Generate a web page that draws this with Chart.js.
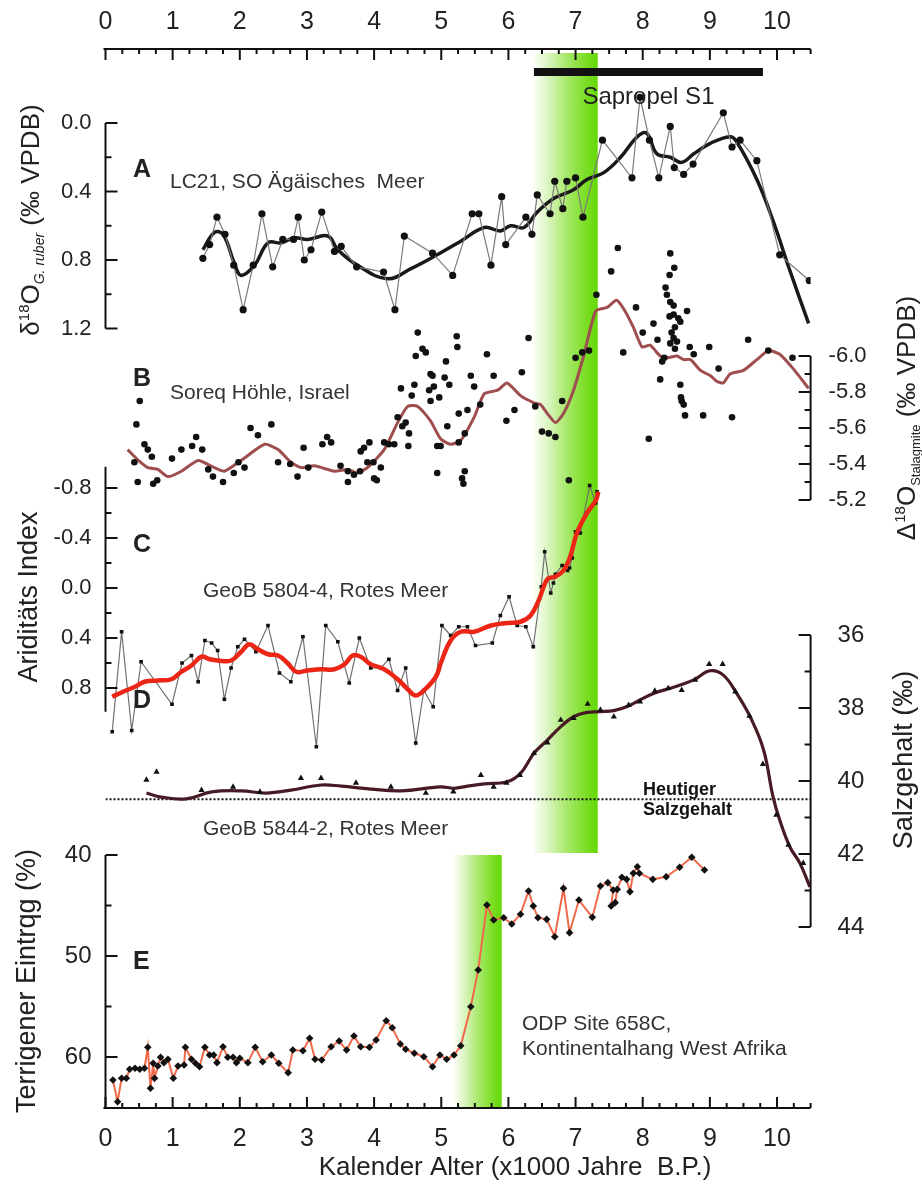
<!DOCTYPE html>
<html>
<head>
<meta charset="utf-8">
<script src="https://cdn.jsdelivr.net/npm/chart.js@4.4.0/dist/chart.umd.min.js"></script>
<style>
  body { margin: 0; background: #fff; }
  canvas { display: block; }
</style>
</head>
<body>
<canvas id="grafico" width="922" height="1189"></canvas>
<script>
// Alter in 1000 Jahren B.P.
const X_MIN = 0, X_MAX = 10.5;
const xEtiquetas = ['0', '1', '2', '3', '4', '5', '6', '7', '8', '9', '10'];
const sapropel = [6.38, 9.79];
const bandaOben = [6.38, 7.33];
const bandaUnten = [5.19, 5.90];
const heutigerSalz = 40.5;

// A: LC21 delta18O G. ruber
const aRoh = [[1.45,0.79],[1.55,0.71],[1.66,0.55],[1.78,0.65],[1.91,0.83],[2.05,1.09],[2.20,0.83],[2.33,0.53],[2.49,0.84],[2.64,0.68],
  [2.80,0.68],[2.87,0.55],[2.96,0.80],[3.06,0.74],[3.22,0.52],[3.41,0.75],[3.51,0.72],[3.74,0.84],[4.14,0.87],[4.31,1.09],
  [4.45,0.66],[4.87,0.76],[5.17,0.89],[5.46,0.53],[5.56,0.53],[5.74,0.83],[5.90,0.43],[5.96,0.71],[6.26,0.55],[6.35,0.65],
  [6.43,0.42],[6.62,0.53],[6.69,0.34],[6.81,0.50],[6.87,0.34],[7.00,0.32],[7.11,0.55],[7.40,0.10],[7.84,0.32],[7.96,-0.15],
  [8.10,0.10],[8.24,0.32],[8.41,0.02],[8.47,0.26],[8.61,0.30],[8.75,0.24],[9.20,-0.06],[9.33,0.14],[9.45,0.10],[9.70,0.22],
  [10.04,0.77],[10.48,0.92]];
const aGlatt = [[1.45,0.74],[1.62,0.64],[1.75,0.65],[1.92,0.82],[2.02,0.89],[2.22,0.83],[2.42,0.70],[2.62,0.70],[2.81,0.67],[3.01,0.68],
  [3.31,0.66],[3.46,0.74],[3.75,0.83],[4.20,0.91],[4.55,0.85],[4.89,0.78],[5.29,0.69],[5.64,0.61],[5.88,0.63],[6.03,0.60],
  [6.23,0.61],[6.43,0.52],[6.68,0.44],[6.97,0.39],[7.17,0.33],[7.42,0.29],[7.67,0.20],[7.92,0.08],[8.06,0.06],[8.21,0.18],
  [8.41,0.20],[8.58,0.23],[8.76,0.18],[9.00,0.12],[9.30,0.08],[9.40,0.11],[9.70,0.33],[9.94,0.57],[10.19,0.86],[10.47,1.17]];
const aTicks = [0.0, 0.4, 0.8, 1.2];
const aTicksKlein = [0.2, 0.6, 1.0];
const aEtiquetas = ['0.0', '0.4', '0.8', '1.2'];

// B: Soreq Höhle delta18O
const bPunkte = [[0.51,-5.75],[0.46,-5.62],[0.43,-5.41],[0.48,-5.30],[0.58,-5.51],[0.63,-5.48],[0.69,-5.44],[0.71,-5.29],[0.77,-5.31],[0.99,-5.43],
  [1.13,-5.48],[1.29,-5.50],[1.35,-5.55],[1.44,-5.48],[1.53,-5.37],[1.60,-5.33],[1.75,-5.30],[1.91,-5.35],[1.98,-5.41],[2.07,-5.38],
  [2.16,-5.60],[2.27,-5.56],[2.47,-5.62],[2.57,-5.41],[2.75,-5.40],[2.86,-5.33],[2.95,-5.49],[3.02,-5.38],[3.23,-5.51],[3.30,-5.55],
  [3.36,-5.52],[3.50,-5.39],[3.61,-5.36],[3.61,-5.30],[3.70,-5.34],[3.79,-5.36],[3.80,-5.47],[3.85,-5.49],[3.93,-5.52],[3.90,-5.41],
  [3.99,-5.41],[4.00,-5.32],[4.04,-5.31],[4.10,-5.38],[4.15,-5.52],[4.22,-5.51],[4.30,-5.51],[4.35,-5.66],[4.40,-5.82],[4.42,-5.61],
  [4.47,-5.63],[4.52,-5.57],[4.51,-5.50],[4.56,-5.78],[4.60,-5.84],[4.62,-6.00],[4.65,-6.13],[4.72,-6.04],[4.77,-6.02],[4.82,-5.81],
  [4.84,-5.90],[4.87,-5.89],[4.84,-5.75],[4.89,-5.83],[4.94,-5.50],[4.97,-5.77],[4.99,-5.50],[4.94,-5.35],[5.07,-5.97],[5.05,-5.88],
  [5.09,-5.61],[5.12,-5.84],[5.23,-6.11],[5.24,-6.05],[5.26,-5.68],[5.35,-5.57],[5.26,-5.52],[5.35,-5.36],[5.31,-5.32],[5.33,-5.29],
  [5.39,-5.70],[5.44,-5.89],[5.49,-5.83],[5.58,-5.73],[5.68,-6.01],[5.78,-5.89],[5.97,-5.64],[6.09,-5.70],[6.20,-5.91],[6.30,-6.10],
  [6.40,-5.72],[6.50,-5.58],[6.60,-5.57],[6.70,-5.55],[6.80,-5.75],[6.90,-5.31],[7.00,-5.99],[7.10,-6.02],[7.20,-6.03],[7.31,-6.34],
  [7.53,-6.47],[7.63,-6.60],[7.71,-6.02],[7.90,-6.27],[8.00,-6.13],[8.09,-5.54],[8.16,-6.18],[8.22,-6.09],[8.26,-5.87],[8.41,-6.57],
  [8.47,-6.49],[8.40,-6.45],[8.34,-6.38],[8.36,-6.34],[8.41,-6.30],[8.46,-6.28],[8.46,-6.23],[8.40,-6.22],[8.53,-6.21],[8.56,-6.19],
  [8.48,-6.16],[8.43,-6.13],[8.46,-6.10],[8.51,-6.08],[8.41,-6.07],[8.48,-6.04],[8.32,-5.99],[8.29,-5.97],[8.66,-6.25],[8.70,-6.05],
  [8.76,-6.01],[8.99,-6.05],[9.13,-5.93],[9.57,-6.09],[8.56,-5.84],[8.57,-5.77],[8.58,-5.75],[8.61,-5.73],[8.63,-5.67],[8.90,-5.67],
  [9.33,-5.66],[9.87,-6.03],[10.23,-5.99],[10.58,-5.75]];
const bGlatt = [[0.33,-5.48],[0.49,-5.42],[0.63,-5.38],[0.78,-5.37],[0.93,-5.33],[1.13,-5.36],[1.38,-5.42],[1.62,-5.38],[1.77,-5.36],[2.02,-5.42],
  [2.37,-5.51],[2.57,-5.48],[2.76,-5.41],[2.91,-5.38],[3.11,-5.39],[3.41,-5.36],[3.61,-5.37],[3.75,-5.35],[3.90,-5.38],[4.15,-5.48],
  [4.35,-5.63],[4.50,-5.72],[4.65,-5.72],[4.84,-5.64],[4.99,-5.54],[5.14,-5.51],[5.29,-5.53],[5.49,-5.66],[5.64,-5.79],[5.84,-5.81],
  [5.98,-5.85],[6.18,-5.78],[6.38,-5.74],[6.48,-5.73],[6.58,-5.68],[6.70,-5.63],[6.82,-5.68],[6.97,-5.81],[7.12,-6.00],[7.30,-6.25],
  [7.47,-6.27],[7.61,-6.31],[7.72,-6.26],[7.86,-6.16],[7.99,-6.05],[8.11,-6.06],[8.26,-6.00],[8.36,-5.99],[8.51,-6.00],[8.61,-5.98],
  [8.71,-5.98],[8.86,-5.92],[9.01,-5.89],[9.10,-5.86],[9.20,-5.85],[9.30,-5.90],[9.50,-5.92],[9.70,-5.98],[9.87,-6.03],[10.04,-6.01],
  [10.24,-5.93],[10.47,-5.82]];
const bTicks = [-6.0, -5.8, -5.6, -5.4, -5.2];
const bTicksKlein = [-5.9, -5.7, -5.5, -5.3];
const bEtiquetas = ['-6.0', '-5.8', '-5.6', '-5.4', '-5.2'];

// C: GeoB 5804-4 Ariditätsindex
const cRoh = [[0.10,1.15],[0.24,0.35],[0.39,1.14],[0.53,0.59],[0.99,0.93],[1.14,0.60],[1.28,0.54],[1.38,0.75],[1.48,0.42],[1.58,0.44],
  [1.67,0.50],[1.77,0.89],[1.87,0.64],[1.97,0.47],[2.07,0.41],[2.24,0.51],[2.42,0.30],[2.59,0.68],[2.76,0.75],[2.94,0.39],
  [3.14,1.27],[3.28,0.30],[3.46,0.43],[3.63,0.76],[3.78,0.40],[3.95,0.64],[4.10,0.64],[4.22,0.57],[4.35,0.82],[4.47,0.64],
  [4.62,1.24],[4.74,0.82],[4.88,0.95],[5.01,0.30],[5.14,0.38],[5.26,0.31],[5.39,0.31],[5.51,0.46],[5.76,0.44],[5.88,0.22],
  [6.01,0.07],[6.13,0.30],[6.26,0.31],[6.37,0.47],[6.49,-0.01],[6.54,-0.29],[6.63,0.04],[6.67,-0.04],[6.70,-0.11],[6.80,-0.18],
  [6.88,-0.14],[6.91,-0.16],[6.95,-0.24],[7.00,-0.45],[7.07,-0.44],[7.21,-0.82],[7.30,-0.68],[7.32,-0.77]];
const cGlatt = [[0.10,0.87],[0.26,0.83],[0.44,0.79],[0.58,0.75],[0.78,0.74],[0.98,0.73],[1.13,0.67],[1.28,0.62],[1.43,0.55],[1.55,0.57],
  [1.67,0.58],[1.87,0.58],[2.02,0.51],[2.14,0.45],[2.27,0.49],[2.42,0.53],[2.57,0.54],[2.71,0.60],[2.84,0.67],[3.01,0.66],
  [3.21,0.65],[3.41,0.65],[3.56,0.61],[3.68,0.54],[3.80,0.55],[3.95,0.61],[4.15,0.65],[4.35,0.73],[4.52,0.82],[4.62,0.86],
  [4.74,0.82],[4.92,0.71],[5.00,0.59],[5.14,0.42],[5.29,0.35],[5.49,0.35],[5.74,0.30],[5.98,0.28],[6.18,0.27],[6.33,0.22],
  [6.45,0.10],[6.58,-0.07],[6.70,-0.09],[6.82,-0.14],[6.92,-0.25],[7.02,-0.44],[7.17,-0.60],[7.30,-0.70],[7.34,-0.77]];
const cTicks = [-0.8, -0.4, 0.0, 0.4, 0.8];
const cTicksKlein = [-0.6, -0.2, 0.2, 0.6];
const cEtiquetas = ['-0.8', '-0.4', '0.0', '0.4', '0.8'];

// D: GeoB 5844-2 Salzgehalt
const dPunkte = [[0.61,39.97],[0.76,39.75],[1.43,40.25],[1.90,40.16],[2.30,40.30],[2.91,39.92],[3.21,39.92],[3.73,40.05],[4.25,40.16],[4.77,40.33],
  [5.18,40.29],[5.59,39.84],[5.78,40.16],[5.97,40.05],[6.17,39.84],[6.38,39.24],[6.58,38.95],[6.78,38.33],[6.97,38.28],[7.18,37.89],
  [7.37,38.05],[7.57,38.24],[7.79,37.92],[7.96,37.83],[8.18,37.53],[8.38,37.46],[8.58,37.51],[8.78,37.23],[8.99,36.80],[9.19,36.80],
  [9.38,37.55],[9.59,38.22],[9.79,39.54],[9.99,40.93],[10.17,41.75],[10.39,42.25]];
const dGlatt = [[0.61,40.33],[0.83,40.44],[1.20,40.49],[1.58,40.30],[2.02,40.27],[2.39,40.33],[2.76,40.25],[3.21,40.11],[3.51,40.14],[3.95,40.22],
  [4.40,40.27],[4.99,40.16],[5.19,40.20],[5.39,40.14],[5.64,40.08],[5.98,40.02],[6.18,39.79],[6.38,39.24],[6.58,38.88],[6.78,38.51],
  [6.97,38.24],[7.17,38.12],[7.37,38.10],[7.57,38.07],[7.77,37.96],[7.96,37.78],[8.16,37.60],[8.46,37.43],[8.76,37.23],[9.00,36.98],
  [9.20,37.10],[9.40,37.60],[9.60,38.24],[9.80,39.15],[9.94,40.43],[10.04,41.07],[10.19,41.80],[10.34,42.25],[10.49,42.90]];
const dTicks = [36, 38, 40, 42, 44];
const dTicksKlein = [37, 39, 41, 43];
const dEtiquetas = ['36', '38', '40', '42', '44'];

// E: ODP 658C terrigener Eintrag
const ePunkte = [[0.11,62.28],[0.18,64.43],[0.24,62.11],[0.31,62.11],[0.36,61.22],[0.44,61.12],[0.51,61.22],[0.58,61.12],[0.63,59.04],[0.67,63.10],
  [0.71,60.62],[0.73,62.11],[0.78,60.89],[0.82,60.03],[0.87,60.56],[0.93,60.23],[1.01,62.11],[1.08,60.89],[1.17,60.79],[1.19,59.04],
  [1.28,60.23],[1.34,60.62],[1.40,60.96],[1.48,59.04],[1.55,59.80],[1.61,59.80],[1.66,60.56],[1.75,58.98],[1.82,60.03],[1.90,60.03],
  [1.95,60.56],[2.00,60.13],[2.12,60.56],[2.23,59.04],[2.34,60.47],[2.47,59.80],[2.58,60.62],[2.72,61.55],[2.79,59.31],[2.94,59.38],
  [3.04,58.15],[3.12,60.23],[3.22,60.30],[3.36,58.98],[3.48,58.42],[3.59,59.31],[3.70,57.92],[3.80,58.98],[3.93,59.04],[4.03,58.32],
  [4.18,56.41],[4.27,57.10],[4.39,58.71],[4.47,59.24],[4.60,59.63],[4.74,59.97],[4.87,60.96],[4.98,59.80],[5.08,60.23],[5.19,59.80],
  [5.29,58.89],[5.44,55.02],[5.55,51.39],[5.68,44.95],[5.78,46.44],[5.93,46.21],[6.05,46.83],[6.18,45.87],[6.30,43.56],[6.37,45.05],
  [6.44,46.21],[6.57,46.37],[6.69,48.09],[6.82,43.30],[6.91,47.69],[7.05,44.46],[7.25,46.17],[7.37,43.07],[7.48,42.74],[7.56,43.47],
  [7.53,45.05],[7.59,44.72],[7.62,43.40],[7.69,42.21],[7.76,42.41],[7.81,43.63],[7.86,41.81],[7.92,41.16],[7.95,41.81],[8.15,42.41],
  [8.35,42.15],[8.55,41.22],[8.73,40.23],[8.92,41.49]];
const eTicks = [40, 50, 60];
const eTicksKlein = [45, 55];
const eEtiquetas = ['40', '50', '60'];

// Lage der Zeichenfläche im Bild
const ZONA = { left: 105.5, right: 810.6, top: 49, bottom: 1108 };
const FAM = "'Liberation Sans', Arial, sans-serif";

function rango(v0, p0, v1, p1) {
  const k = (v1 - v0) / (p1 - p0);
  return { min: v0 + (ZONA.top - p0) * k, max: v0 + (ZONA.bottom - p0) * k };
}
function puntos(pares) {
  return pares.map(p => ({ x: p[0], y: p[1] }));
}
function ejeY(r) {
  return { type: 'linear', display: false, reverse: true, min: r.min, max: r.max };
}

function linea(ctx, x1, y1, x2, y2) {
  ctx.beginPath(); ctx.moveTo(x1, y1); ctx.lineTo(x2, y2); ctx.stroke();
}

function textoRico(ctx, partes, cx, cy, girar) {
  ctx.save();
  ctx.translate(cx, cy);
  if (girar) ctx.rotate(-Math.PI / 2);
  ctx.textAlign = 'left';
  ctx.textBaseline = 'alphabetic';
  let total = 0;
  partes.forEach(p => { ctx.font = p.f; total += ctx.measureText(p.t).width; });
  let x = -total / 2;
  partes.forEach(p => {
    ctx.font = p.f;
    ctx.fillText(p.t, x, 9 + (p.dy || 0));
    x += ctx.measureText(p.t).width;
  });
  ctx.restore();
}

function banda(ctx, sx, rangoX, yTop, yBot) {
  const x1 = sx.getPixelForValue(rangoX[0]), x2 = sx.getPixelForValue(rangoX[1]);
  const g = ctx.createLinearGradient(x1, 0, x2, 0);
  g.addColorStop(0, 'rgb(250,254,246)');
  g.addColorStop(0.2, 'rgb(222,246,198)');
  g.addColorStop(0.5, 'rgb(170,233,110)');
  g.addColorStop(0.8, 'rgb(125,222,40)');
  g.addColorStop(1, 'rgb(100,216,5)');
  ctx.fillStyle = g;
  ctx.fillRect(x1, yTop, x2 - x1, yBot - yTop);
}

function dibujarEjeY(ctx, chart, c) {
  const sx = chart.scales.x, sy = chart.scales[c.id];
  const izq = c.lado === 'left';
  const x = sx.getPixelForValue(izq ? X_MIN : X_MAX);
  const dir = izq ? 1 : -1;
  ctx.strokeStyle = '#111';
  ctx.lineWidth = 2;
  linea(ctx, x, sy.getPixelForValue(c.desde), x, sy.getPixelForValue(c.hasta));
  c.mayores.forEach(v => { const y = sy.getPixelForValue(v); linea(ctx, x, y, x + dir * 12, y); });
  c.menores.forEach(v => { const y = sy.getPixelForValue(v); linea(ctx, x, y, x + dir * 6, y); });
  ctx.fillStyle = '#222';
  ctx.font = c.fuente;
  ctx.textBaseline = 'middle';
  ctx.textAlign = izq ? 'right' : 'left';
  c.etiquetas.forEach((t, i) => ctx.fillText(t, x + (izq ? -14 : c.sep), sy.getPixelForValue(c.mayores[i])));
}

function dibujarEjeX(ctx, sx, y, dir, yTexto) {
  ctx.strokeStyle = '#111';
  ctx.lineWidth = 2;
  linea(ctx, sx.getPixelForValue(X_MIN) - 2, y, sx.getPixelForValue(X_MAX), y);
  for (let v = X_MIN; v <= X_MAX + 1e-9; v += 0.25) {
    const x = sx.getPixelForValue(v);
    const mayor = Math.abs(v - Math.round(v)) < 1e-6;
    linea(ctx, x, y, x, y + dir * (mayor ? 11 : 5));
  }
  ctx.fillStyle = '#222';
  ctx.font = '25px ' + FAM;
  ctx.textAlign = 'center';
  ctx.textBaseline = 'middle';
  xEtiquetas.forEach(t => ctx.fillText(t, sx.getPixelForValue(Number(t)), yTexto));
}

const decoracion = {
  id: 'decoracion',
  beforeDatasetsDraw(chart) {
    const ctx = chart.ctx, sx = chart.scales.x, yE = chart.scales.yE;
    const ca = chart.chartArea;
    ctx.save();
    banda(ctx, sx, bandaOben, ca.top + 4, yE.getPixelForValue(40) - 2);
    banda(ctx, sx, bandaUnten, yE.getPixelForValue(40), ca.bottom);
    ctx.restore();
  },
  afterDraw(chart) {
    const ctx = chart.ctx, sx = chart.scales.x;
    const ca = chart.chartArea;
    ctx.save();

    // Sapropel S1
    ctx.fillStyle = '#111';
    const s1 = sx.getPixelForValue(sapropel[0]), s2 = sx.getPixelForValue(sapropel[1]);
    ctx.fillRect(s1, 68, s2 - s1, 8);
    ctx.font = '24px ' + FAM;
    ctx.textAlign = 'center';
    ctx.textBaseline = 'middle';
    ctx.fillStyle = '#222';
    ctx.fillText('Sapropel S1', (s1 + s2) / 2, 97);

    dibujarEjeX(ctx, sx, ca.top, 1, 22);
    dibujarEjeX(ctx, sx, ca.bottom, -1, 1139);

    const f22 = '22px ' + FAM;
    dibujarEjeY(ctx, chart, { id: 'yA', lado: 'left', desde: 0, hasta: 1.2, mayores: aTicks, menores: aTicksKlein, etiquetas: aEtiquetas, fuente: f22 });
    dibujarEjeY(ctx, chart, { id: 'yB', lado: 'right', desde: -6.0, hasta: -5.2, mayores: bTicks, menores: bTicksKlein, etiquetas: bEtiquetas, fuente: f22, sep: 18 });
    dibujarEjeY(ctx, chart, { id: 'yC', lado: 'left', desde: -0.97, hasta: 0.99, mayores: cTicks, menores: cTicksKlein, etiquetas: cEtiquetas, fuente: f22 });
    dibujarEjeY(ctx, chart, { id: 'yD', lado: 'right', desde: 36, hasta: 44, mayores: dTicks, menores: dTicksKlein, etiquetas: dEtiquetas, fuente: '24px ' + FAM, sep: 27 });
    dibujarEjeY(ctx, chart, { id: 'yE', lado: 'left', desde: 40, hasta: 65.05, mayores: eTicks, menores: eTicksKlein, etiquetas: eEtiquetas, fuente: '24px ' + FAM });

    // Achsentitel
    ctx.fillStyle = '#222';
    const g26 = '26px ' + FAM, k15 = '15px ' + FAM, i14 = 'italic 14px ' + FAM;
    textoRico(ctx, [{ t: 'δ', f: g26 }, { t: '18', f: k15, dy: -10 }, { t: 'O', f: g26 }, { t: 'G. ruber', f: i14, dy: 5 }, { t: ' (‰ VPDB)', f: g26 }], 30, 220, true);
    textoRico(ctx, [{ t: 'Ariditäts Index', f: '27px ' + FAM }], 28, 597, true);
    textoRico(ctx, [{ t: 'Terrigener Eintrqg (%)', f: '27px ' + FAM }], 26, 981, true);
    textoRico(ctx, [{ t: 'Δ', f: g26 }, { t: '18', f: k15, dy: -10 }, { t: 'O', f: g26 }, { t: 'Stalagmite', f: '13px ' + FAM, dy: 5 }, { t: ' (‰ VPDB)', f: g26 }], 906, 418, true);
    textoRico(ctx, [{ t: 'Salzgehalt (‰)', f: '27px ' + FAM }], 903, 760, true);
    textoRico(ctx, [{ t: 'Kalender Alter (x1000 Jahre  B.P.)', f: '26px ' + FAM }], 515, 1166, false);

    // Beschriftung der Teilbilder
    ctx.textAlign = 'left';
    ctx.textBaseline = 'middle';
    ctx.font = 'bold 25px ' + FAM;
    [['A', 170], ['B', 379], ['C', 545], ['D', 701], ['E', 962]].forEach(p => ctx.fillText(p[0], 133, p[1]));
    ctx.font = '21px ' + FAM;
    ctx.fillStyle = '#333';
    ctx.fillText('LC21, SO Ägäisches  Meer', 170, 182);
    ctx.fillText('Soreq Höhle, Israel', 170, 393);
    ctx.fillText('GeoB 5804-4, Rotes Meer', 203, 591);
    ctx.fillText('GeoB 5844-2, Rotes Meer', 203, 829);
    ctx.fillText('ODP Site 658C,', 522, 1024);
    ctx.fillText('Kontinentalhang West Afrika', 522, 1049);
    ctx.fillStyle = '#111';
    ctx.font = 'bold 18px ' + FAM;
    ctx.fillText('Heutiger', 643, 790);
    ctx.fillText('Salzgehalt', 643, 810);
    ctx.restore();
  }
};

const datasets = [
  { label: 'C geglättet', data: puntos(cGlatt), yAxisID: 'yC', borderColor: 'rgb(235,38,22)', borderWidth: 4.5, pointRadius: 0, tension: 0.4 },
  { label: 'C', data: puntos(cRoh), yAxisID: 'yC', borderColor: '#707070', borderWidth: 1.2, pointRadius: 2.6, pointStyle: 'rect', pointBackgroundColor: '#111', pointBorderWidth: 0, tension: 0 },
  { label: 'A', data: puntos(aRoh), yAxisID: 'yA', borderColor: '#7a7a7a', borderWidth: 1.2, pointRadius: 3.6, pointBackgroundColor: '#111', pointBorderWidth: 0, tension: 0 },
  { label: 'A geglättet', data: puntos(aGlatt), yAxisID: 'yA', borderColor: '#1a1a1a', borderWidth: 3.5, pointRadius: 0, tension: 0.4 },
  { label: 'B', data: puntos(bPunkte), yAxisID: 'yB', showLine: false, pointRadius: 3.3, pointBackgroundColor: '#111', pointBorderWidth: 0, clip: false },
  { label: 'B geglättet', data: puntos(bGlatt), yAxisID: 'yB', borderColor: 'rgb(158,78,78)', borderWidth: 3, pointRadius: 0, tension: 0.2 },
  { label: 'D', data: puntos(dPunkte), yAxisID: 'yD', showLine: false, pointStyle: 'triangle', pointRadius: 3.6, pointBackgroundColor: '#111', pointBorderWidth: 0 },
  { label: 'D geglättet', data: puntos(dGlatt), yAxisID: 'yD', borderColor: 'rgb(72,26,36)', borderWidth: 3.2, pointRadius: 0, tension: 0.4 },
  { label: 'Heutiger Salzgehalt', data: [{ x: X_MIN, y: heutigerSalz }, { x: X_MAX, y: heutigerSalz }], yAxisID: 'yD', borderColor: '#111', borderWidth: 2, borderDash: [2, 2], pointRadius: 0 },
  { label: 'E', data: puntos(ePunkte), yAxisID: 'yE', borderColor: 'rgb(240,105,75)', borderWidth: 2, pointRadius: 3.8, pointStyle: 'rectRot', pointBackgroundColor: '#111', pointBorderWidth: 0, tension: 0 }
];
datasets.forEach(d => { d.xAxisID = 'x'; });

new Chart(document.getElementById('grafico'), {
  type: 'line',
  data: { datasets },
  options: {
    responsive: false,
    animation: false,
    devicePixelRatio: 1,
    layout: { padding: { left: ZONA.left, right: 922 - ZONA.right, top: ZONA.top, bottom: 1189 - ZONA.bottom } },
    plugins: { legend: { display: false }, tooltip: { enabled: false } },
    scales: {
      x: { type: 'linear', display: false, min: X_MIN, max: X_MAX },
      yA: ejeY(rango(0, 123, 1.2, 328.5)),
      yB: ejeY(rango(-6.0, 356, -5.2, 500)),
      yC: ejeY(rango(-0.8, 488, 0.8, 688)),
      yD: ejeY(rango(36, 635, 44, 927)),
      yE: ejeY(rango(40, 855, 60, 1057))
    }
  },
  plugins: [decoracion]
});
</script>
</body>
</html>
